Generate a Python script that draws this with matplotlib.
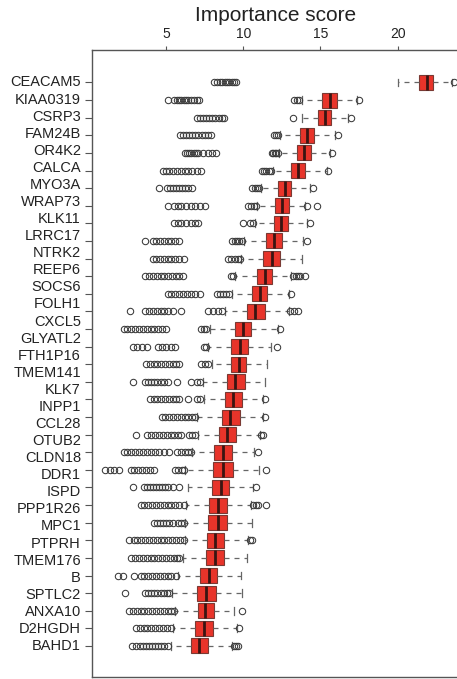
import numpy as np
import matplotlib
matplotlib.use("Agg")
import matplotlib.pyplot as plt

plt.rcParams['font.family'] = ['Liberation Sans', 'DejaVu Sans']

# Gene labels (top to bottom) as printed on the figure
genes = ["CEACAM5", "KIAA0319", "CSRP3", "FAM24B", "OR4K2", "CALCA", "MYO3A",
         "WRAP73", "KLK11", "LRRC17", "NTRK2", "REEP6", "SOCS6", "FOLH1",
         "CXCL5", "GLYATL2", "FTH1P16", "TMEM141", "KLK7", "INPP1", "CCL28",
         "OTUB2", "CLDN18", "DDR1", "ISPD", "PPP1R26", "MPC1", "PTPRH",
         "TMEM176", "B", "SPTLC2", "ANXA10", "D2HGDH", "BAHD1"]

# box statistics of the drawn rows (top to bottom)
whislo = [20.04, 13.8, 13.8, 12.35, 12.3, 11.95, 11.15, 10.9, 10.75, 10.05, 9.85,
          9.5, 9.3, 8.8, 7.85, 7.75, 7.95, 7.4, 7.45, 7.0, 7.1, 6.7, 6.25, 6.4,
          6.3, 6.25, 6.25, 6.08, 5.8, 5.4, 5.6, 5.45, 5.3]
q1 = [21.39, 15.1, 14.85, 13.7, 13.5, 13.1, 12.25, 12.08, 12.0, 11.45, 11.3,
      10.9, 10.56, 10.26, 9.44, 9.22, 9.22, 8.94, 8.85, 8.62, 8.42, 8.14, 8.07,
      7.99, 7.8, 7.74, 7.66, 7.6, 7.21, 7.0, 7.05, 6.9, 6.62]
med = [21.88, 15.6, 15.28, 14.1, 13.94, 13.55, 12.7, 12.5, 12.42, 11.99, 11.85,
       11.4, 11.06, 10.78, 9.98, 9.76, 9.7, 9.5, 9.37, 9.17, 8.96, 8.68, 8.68,
       8.53, 8.35, 8.39, 8.18, 8.18, 7.8, 7.6, 7.55, 7.43, 7.16]
q3 = [22.3, 16.06, 15.7, 14.6, 14.4, 14.0, 13.1, 12.94, 12.9, 12.53, 12.36,
      11.86, 11.56, 11.38, 10.52, 10.3, 10.2, 10.09, 9.91, 9.76, 9.54, 9.29, 9.33,
      9.11, 8.96, 8.96, 8.74, 8.74, 8.31, 8.25, 8.14, 8.07, 7.74]
whishi = [23.5, 17.35, 16.8, 15.95, 15.6, 15.4, 14.3, 14.03, 14.16, 13.87, 13.8,
          13.1, 12.94, 12.94, 12.25, 11.82, 11.54, 11.38, 11.27, 11.27, 11.06,
          10.73, 10.99, 10.63, 10.52, 10.56, 10.3, 10.26, 9.87, 9.94, 9.43, 9.6, 9.26]
fliers = [
    [8.1, 8.3, 8.5, 8.65, 8.8, 8.95, 9.1, 9.25, 9.4, 9.55, 23.67],
    [5.1, 5.55, 5.7, 5.85, 6.0, 6.15, 6.3, 6.45, 6.6, 6.8, 7.0, 7.15, 13.3, 13.45, 13.6, 17.5],
    [7.0, 7.2, 7.4, 7.6, 7.8, 8.0, 8.2, 8.4, 8.6, 8.75, 13.2, 16.97],
    [5.9, 6.1, 6.3, 6.5, 6.7, 6.9, 7.1, 7.3, 7.5, 7.7, 7.9, 12.0, 12.15, 12.25, 16.15],
    [6.2, 6.35, 6.5, 6.65, 6.8, 6.95, 7.1, 7.4, 7.7, 8.0, 8.25, 11.86, 11.95, 12.05, 12.15, 12.25, 15.76],
    [4.8, 5.0, 5.2, 5.45, 5.7, 5.95, 6.2, 6.45, 6.7, 7.0, 7.27, 11.2, 11.35, 11.5, 11.65, 11.8, 15.5],
    [4.57, 5.06, 5.25, 5.45, 5.65, 5.85, 6.05, 6.25, 6.45, 6.67, 10.6, 10.75, 10.9, 11.05, 14.5],
    [5.1, 5.5, 5.75, 6.0, 6.3, 6.6, 6.9, 7.2, 7.5, 10.3, 10.5, 10.7, 10.84, 14.16, 14.8],
    [5.5, 5.75, 6.0, 6.3, 6.6, 6.85, 7.1, 9.98, 10.45, 10.65, 14.3],
    [3.64, 4.14, 4.35, 4.6, 4.85, 5.1, 5.35, 5.6, 5.87, 9.26, 9.45, 9.6, 9.75, 9.9, 14.1],
    [4.14, 4.35, 4.6, 4.85, 5.1, 5.35, 5.6, 5.85, 6.14, 9.0, 9.2, 9.5, 9.65, 9.76],
    [3.64, 3.9, 4.15, 4.4, 4.65, 4.9, 5.15, 5.4, 5.65, 5.85, 6.08, 9.2, 9.35, 13.25, 13.4, 13.55, 13.7, 14.0],
    [5.1, 5.35, 5.6, 5.85, 6.1, 6.35, 6.6, 6.9, 7.17, 8.3, 8.5, 8.7, 8.9, 9.1, 13.1],
    [2.69, 3.64, 3.9, 4.15, 4.4, 4.65, 4.9, 5.15, 5.43, 5.97, 7.75, 8.05, 8.35, 8.6, 13.05, 13.3, 13.55],
    [2.25, 2.5, 2.75, 3.0, 3.25, 3.5, 3.75, 4.0, 4.25, 4.5, 4.75, 5.0, 7.27, 7.45, 7.6, 12.36],
    [2.84, 3.15, 3.45, 3.77, 4.5, 4.75, 5.0, 5.3, 5.58, 7.45, 7.6, 12.2],
    [3.7, 3.95, 4.2, 4.45, 4.7, 4.95, 5.2, 5.45, 5.65, 5.87, 7.27, 7.5, 7.75],
    [2.88, 3.64, 3.85, 4.05, 4.25, 4.45, 4.65, 4.85, 5.1, 5.71, 6.62, 7.0, 7.2],
    [3.98, 4.2, 4.45, 4.7, 4.95, 5.2, 5.45, 5.65, 5.87, 6.45, 7.0, 7.2, 11.43],
    [4.72, 4.95, 5.2, 5.45, 5.7, 5.95, 6.2, 6.45, 6.7, 6.85, 11.43],
    [3.05, 3.8, 4.05, 4.3, 4.55, 4.8, 5.05, 5.3, 5.55, 5.8, 5.97, 6.5, 6.7, 6.9, 11.15, 11.27],
    [2.25, 2.5, 2.75, 3.0, 3.25, 3.5, 3.75, 4.0, 4.3, 4.55, 4.85, 5.21, 5.71, 5.95, 6.2, 6.45, 6.6, 10.94],
    [1.04, 1.35, 1.65, 1.97, 2.73, 2.95, 3.2, 3.45, 3.7, 3.95, 4.24, 5.58, 5.8, 6.05, 6.15, 11.45],
    [2.84, 3.55, 3.75, 3.95, 4.15, 4.35, 4.55, 4.75, 4.95, 5.15, 5.43, 5.87, 10.8],
    [3.38, 3.6, 3.85, 4.1, 4.35, 4.6, 4.85, 5.1, 5.35, 5.6, 5.85, 6.19, 10.63, 10.8, 10.95, 11.45],
    [4.2, 4.4, 4.6, 4.8, 5.0, 5.2, 5.45, 5.75, 5.95, 6.14],
    [2.62, 2.9, 3.15, 3.4, 3.65, 3.9, 4.15, 4.4, 4.65, 4.9, 5.15, 5.4, 5.65, 5.9, 6.14, 10.42, 10.6],
    [2.73, 3.0, 3.25, 3.5, 3.75, 4.0, 4.25, 4.5, 4.75, 5.0, 5.25, 5.5, 5.7, 5.87],
    [1.9, 2.2, 2.94, 3.38, 3.6, 3.85, 4.1, 4.35, 4.6, 4.85, 5.1, 5.35, 5.65],
    [2.36, 3.64, 3.85, 4.05, 4.25, 4.45, 4.65, 4.85, 5.05, 5.21],
    [2.62, 2.85, 3.1, 3.35, 3.6, 3.85, 4.1, 4.35, 4.6, 4.85, 5.1, 5.3, 5.5, 9.9],
    [3.05, 3.3, 3.55, 3.8, 4.05, 4.3, 4.55, 4.8, 5.05, 5.32, 9.7],
    [2.8, 3.05, 3.3, 3.5, 3.7, 3.9, 4.1, 4.3, 4.5, 4.7, 4.9, 5.1, 9.4, 9.55, 9.65],
]
xticks = [5, 10, 15, 20]

n = len(med)
pos = np.arange(n, 0, -1)
stats = []
for i in range(n):
    stats.append({"whislo": whislo[i], "q1": q1[i], "med": med[i], "q3": q3[i],
                  "whishi": whishi[i], "fliers": fliers[i]})

fig = plt.figure(figsize=(4.57, 6.79), dpi=100)
ax = fig.add_axes([0.202, 0.003, 0.8, 0.923])

ax.bxp(stats, positions=pos, orientation='horizontal', widths=0.85,
       patch_artist=True, capwidths=0.45,
       boxprops=dict(facecolor='#e8342a', edgecolor='#7a3a34', linewidth=0.8),
       medianprops=dict(color='#3a1512', linewidth=2.0),
       whiskerprops=dict(color='#666666', linewidth=0.9, linestyle=(0, (4, 4))),
       capprops=dict(color='#666666', linewidth=0.9),
       flierprops=dict(marker='o', markerfacecolor='none', markeredgecolor='#3a3a3a',
                       markersize=4.6, markeredgewidth=0.75))

ax.set_xlim(0.23, 23.9)
ax.set_ylim(-0.76, n + 1.83)

# x axis at the top
ax.xaxis.set_ticks_position('top')
ax.xaxis.set_label_position('top')
ax.set_xticks(xticks)
ax.tick_params(axis='x', length=3, width=0.8, color='#555555', pad=4, labelsize=10,
               labelcolor='#222222')
ax.set_xlabel("Importance score", fontsize=15, labelpad=4, color='#222222')

# tick marks at the rows, labels spread slightly differently (as in the figure)
ax.set_yticks(pos, labels=[])
ax.tick_params(axis='y', length=5, width=0.8, color='#555555')
label_pos = np.linspace(n, 1, len(genes))
for g, yp in zip(genes, label_pos):
    ax.text(-0.031, yp, g, transform=ax.get_yaxis_transform(), ha='right',
            va='center', fontsize=10.5, color='#222222')

for s in ['top', 'left', 'bottom']:
    ax.spines[s].set_color('#555555')
    ax.spines[s].set_linewidth(1.0)
ax.spines['right'].set_visible(False)

plt.savefig("out.png", dpi=100)
